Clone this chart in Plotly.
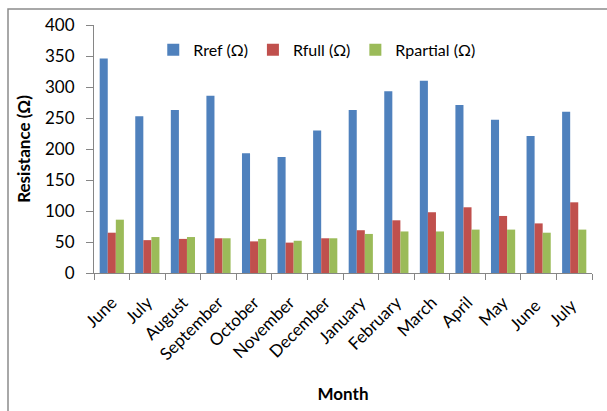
import plotly.graph_objects as go

months = ["June", "July", "August", "September", "October", "November", "December",
          "January", "February", "March", "April", "May", "June ", "July "]
rref = [346, 253, 263, 286, 193, 187, 230, 263, 293, 310, 271, 247, 221, 260]
rfull = [65, 53, 55, 56, 51, 49, 56, 69, 85, 98, 106, 92, 80, 114]
rpartial = [86, 58, 58, 56, 55, 52, 56, 63, 67, 67, 70, 70, 65, 70]

series_names = ["Rref (Ω)", "Rfull (Ω)", "Rpartial (Ω)"]
colors = ["#4F81BD", "#C0504D", "#9BBB59"]

FONT = "Lato, 'Open Sans', sans-serif"

fig = go.Figure()
for name, vals, col in zip(series_names, [rref, rfull, rpartial], colors):
    fig.add_trace(go.Bar(x=months, y=vals, name=name, marker=dict(color=col, line=dict(width=0))))

L, R, T, B = 94, 15, 25, 138
W, H = 607, 411
pw, ph = W - L - R, H - T - B

fig.update_layout(
    width=W, height=H,
    margin=dict(l=L, r=R, t=T, b=B),
    paper_bgcolor="white", plot_bgcolor="white",
    barmode="group", bargap=0.32, bargroupgap=0,
    font=dict(family=FONT, size=16, color="#000000"),
    legend=dict(orientation="h", x=0.119, y=0.90, xanchor="left", yanchor="middle",
                font=dict(size=16), bgcolor="rgba(0,0,0,0)", traceorder="normal",
                itemwidth=30),
    showlegend=True,
)
fig.update_yaxes(range=[0, 400], dtick=50, showgrid=False, showline=True, linecolor="#868686",
                 linewidth=1, ticks="outside", ticklen=7, tickcolor="#868686",
                 tickfont=dict(size=17, family=FONT), ticklabelstandoff=8,
                 title=dict(text="<b>Resistance (Ω)</b>", font=dict(size=17, family=FONT), standoff=10),
                 zeroline=False)
fig.update_xaxes(showgrid=False, showline=True, linecolor="#868686", linewidth=1,
                 ticks="outside", tickson="boundaries", ticklen=6, tickcolor="#868686",
                 tickangle=-45, tickfont=dict(size=17, family=FONT),
                 ticklabelstandoff=12,
                 title=dict(text="<b>Month</b>", font=dict(size=17, family=FONT), standoff=24))

# outer chart border (gray frame)
x0 = (8 - L) / pw
x1 = (640 - L) / pw
y0 = 1 + (T - 9) / ph
y1 = 1 - (450 - T) / ph
fig.add_shape(type="rect", xref="paper", yref="paper", x0=x0, x1=x1, y0=y1, y1=y0,
              line=dict(color="#8C8C8C", width=1.5), fillcolor="rgba(0,0,0,0)", layer="below")

fig.write_html("out.html")
